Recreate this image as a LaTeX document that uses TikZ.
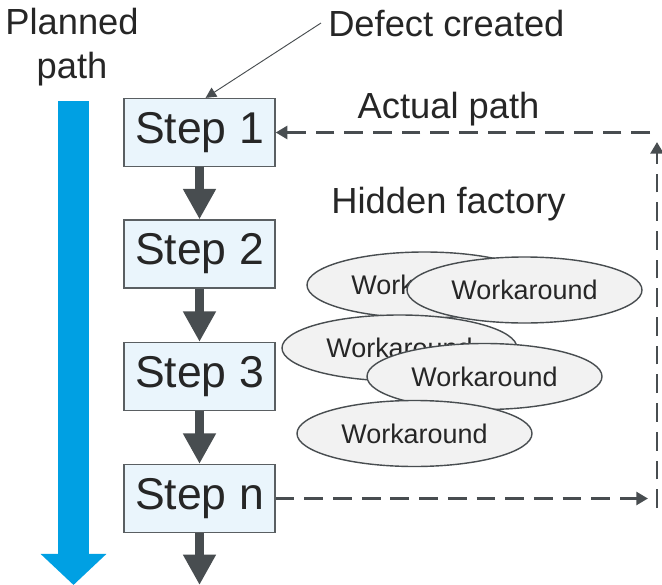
\documentclass[tikz,border=0pt]{standalone}
\usepackage{fontspec}
\setmainfont{Liberation Sans}
\usetikzlibrary{shapes.geometric,arrows.meta}
\definecolor{stepfill}{RGB}{234,245,252}
\definecolor{stepdraw}{RGB}{90,95,98}
\definecolor{darkarrow}{RGB}{72,77,80}
\definecolor{plannedblue}{RGB}{0,160,227}
\definecolor{wafill}{RGB}{242,242,242}
\definecolor{txt}{RGB}{38,38,38}

\begin{document}
\begin{tikzpicture}[x=0.03cm,y=-0.03cm]
          \useasboundingbox (0,0) rectangle (662,585);
          \tikzstyle{every node}=[text=txt]
          \tikzstyle{stepbox}=[rectangle, draw=stepdraw, line width=1.1pt, fill=stepfill, minimum width=4.53cm, minimum height=2.04cm, inner sep=0pt, font=\fontsize{38}{40}\selectfont]
          \tikzstyle{workaround}=[ellipse, draw=darkarrow, line width=1.2pt, fill=wafill, minimum width=7.05cm, minimum height=1.98cm, inner sep=0pt, font=\fontsize{23}{25}\selectfont]
          \tikzstyle{bigtext}=[inner sep=0pt, font=\fontsize{31}{37.5}\selectfont]
          \tikzstyle{flow}=[draw=darkarrow, line width=8.5pt, -{Triangle[length=26pt,width=26.5pt]}]
          \tikzstyle{actual}=[draw=darkarrow, line width=2.5pt, dash pattern=on 16pt off 8.5pt, -{Triangle[length=10pt,width=11pt]}]

          % planned path
          \node[bigtext, anchor=north, align=center] (planned) at (72,8) {Planned\\path};
          \coordinate (plantop) at (73.5,101);
          \coordinate (planend) at (73.5,585);
          \draw[plannedblue, line width=26.5pt, -{Triangle[length=26.5pt,width=54.6pt]}] (plantop) -- (planend);

          % steps
          \node[stepbox] (s1) at (199.5,132.5) {Step 1};
          \node[stepbox] (s2) at (199.5,254) {Step 2};
          \node[stepbox] (s3) at (199.5,376.5) {Step 3};
          \node[stepbox] (sn) at (199.5,498.5) {Step n};
          \coordinate (stepend) at (199.5,585);
          \draw[flow] (s1) -- (s2);
          \draw[flow] (s2) -- (s3);
          \draw[flow] (s3) -- (sn);
          \draw[flow] (sn) -- (stepend);

          % hidden factory
          \node[workaround] (w1) at (424.5,285) {Workaround};
          \node[workaround] (w2) at (524.5,290) {Workaround};
          \node[workaround] (w3) at (399.5,348) {Workaround};
          \node[workaround] (w4) at (484.5,376.5) {Workaround};
          \node[workaround] (w5) at (414.5,433.5) {Workaround};

          % labels
          \node[bigtext, anchor=base west, inner xsep=6pt] (defect) at (321,36) {Defect created};
          \node[bigtext, anchor=base] (actualpath) at (448.5,118) {Actual path};
          \node[bigtext, anchor=base] (hidden) at (448.5,213) {Hidden factory};
          \draw[darkarrow, line width=0.8pt, -{Triangle[length=9pt,width=9pt]}] (defect.west) -- (s1.80);

          % actual path
          \coordinate (toptail) at (650,132.5);
          \coordinate (risetail) at (657,508);
          \coordinate (risehead) at (657,142);
          \coordinate (lowhead) at (648,498.5);
          \draw[actual] (toptail) -- (s1.east);
          \draw[actual] (risetail) -- (risehead);
          \draw[actual] (sn.east) -- (lowhead);
        \end{tikzpicture}
\end{document}
